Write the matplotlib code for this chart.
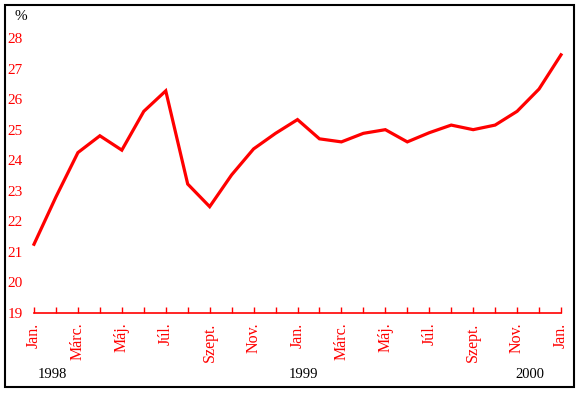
import matplotlib.pyplot as plt
from matplotlib.patches import Rectangle

# monthly values, Jan 1998 .. Jan 2000 (%)
values = [21.25, 22.8, 24.25, 24.8, 24.33, 25.6, 26.27, 23.22, 22.48, 23.52,
          24.37, 24.88, 25.33, 24.7, 24.6, 24.88, 25.0, 24.6, 24.9, 25.15,
          25.0, 25.15, 25.6, 26.33, 27.45]
month_labels = ["Jan.", "Márc.", "Máj.", "Júl.", "Szept.", "Nov.",
                "Jan.", "Márc.", "Máj.", "Júl.", "Szept.", "Nov.", "Jan."]
years = ["1998", "1999", "2000"]
year_pos = [0.85, 12.25, 22.6]
yticks = [19, 20, 21, 22, 23, 24, 25, 26, 27, 28]

red = "#ff0000"
serif = "Liberation Serif"
W, H = 581, 393

fig = plt.figure(figsize=(W / 100, H / 100), dpi=100)
ax = fig.add_axes([34 / W, 1 - 313 / H, (561 - 34) / W, (313 - 38) / H])

x = list(range(len(values)))
ax.plot(x, values, color=red, lw=2.3, clip_on=False, solid_joinstyle="miter")

ax.set_xlim(0, len(values) - 1)
ax.set_ylim(19, 28)

ax.set_xticks(x)
labels = []
for i in x:
    labels.append(month_labels[i // 2] if i % 2 == 0 else "")
ax.set_xticklabels(labels, rotation=90, va="top", ha="center",
                   color=red, family=serif, fontsize=11.5)
ax.tick_params(axis="x", direction="in", length=4.5, width=1, color=red, pad=7)

ax.set_yticks(yticks)
ax.set_yticklabels([str(v) for v in yticks], color=red, family=serif,
                   fontsize=11, ha="left")
ax.tick_params(axis="y", length=0, pad=19)

for s in ["top", "right", "left"]:
    ax.spines[s].set_visible(False)
ax.spines["bottom"].set_color(red)
ax.spines["bottom"].set_linewidth(1.2)

fig.text(21 / W, 1 - 17 / H, "%", family=serif, fontsize=11,
         ha="center", va="center")
for yr, pos in zip(years, year_pos):
    xf = ax.transData.transform((pos, 19))[0] / W
    fig.text(xf, 1 - 375 / H, yr, family=serif, fontsize=10.5,
             ha="center", va="center")

fig.patches.append(Rectangle((5 / W, 1 - 387 / H), 569 / W, 382 / H,
                             transform=fig.transFigure, fill=False,
                             edgecolor="black", lw=1.5))

fig.savefig("out.png", dpi=100)
